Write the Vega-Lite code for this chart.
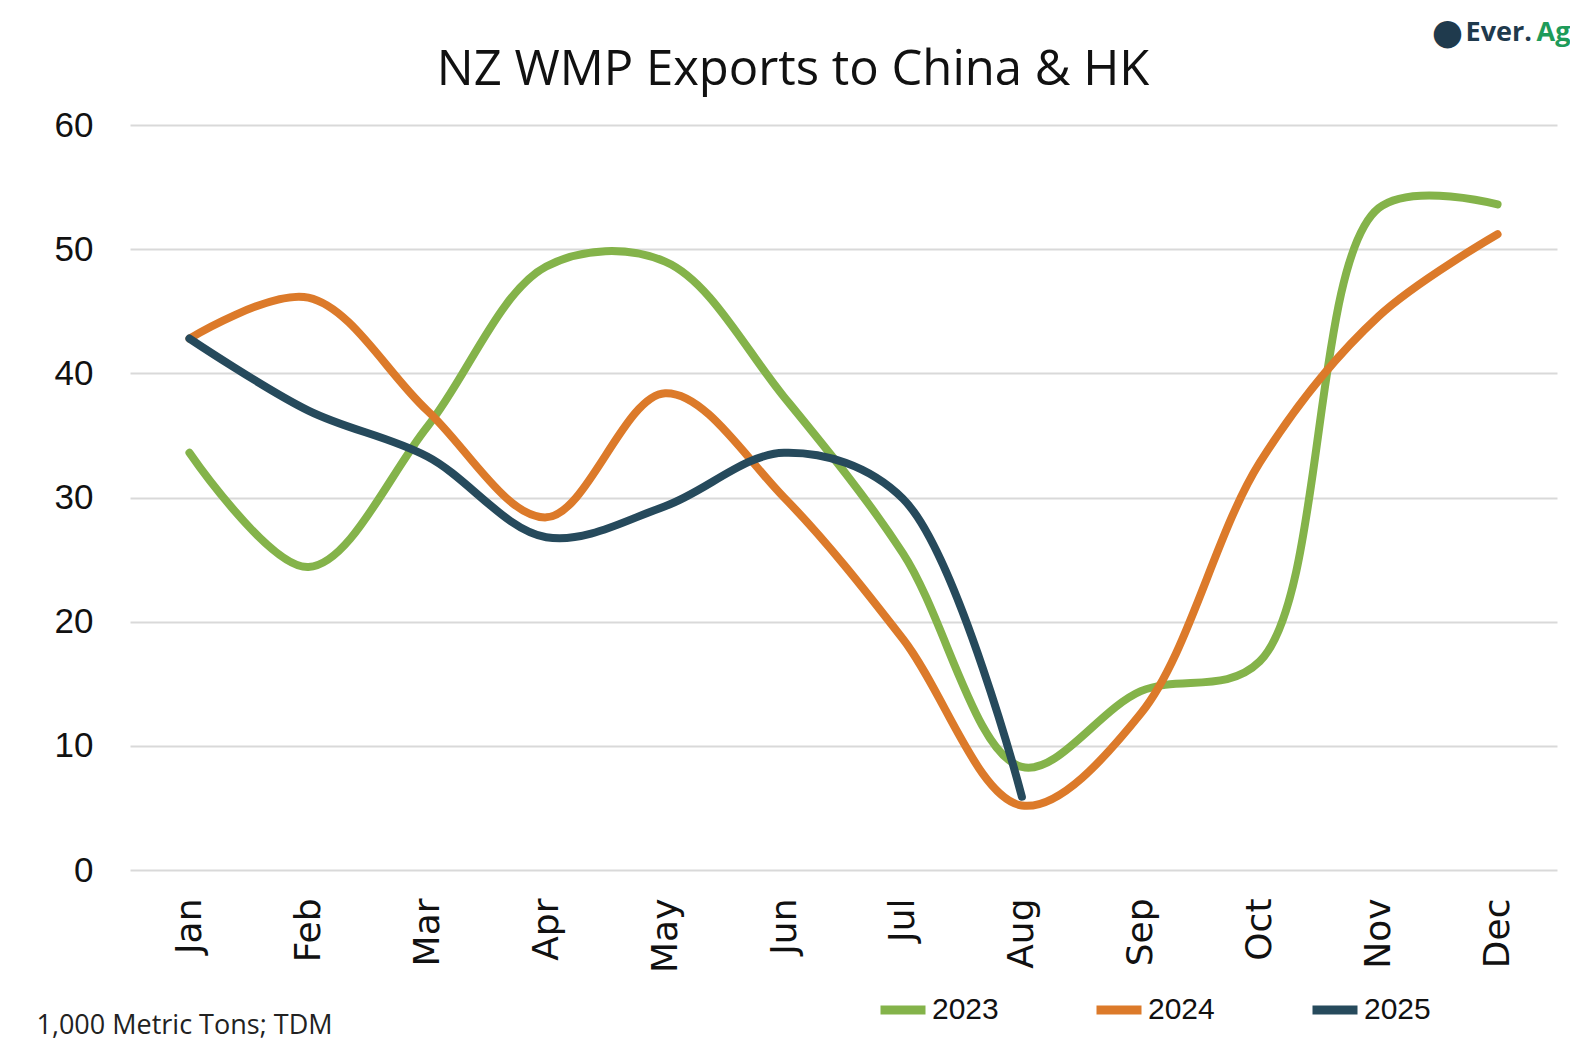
{
  "$schema": "https://vega.github.io/schema/vega-lite/v6.json",
  "autosize": {"type": "none"},
  "width": 1427,
  "height": 745,
  "padding": {"left": 130, "top": 125, "right": 13, "bottom": 184},
  "background": "white",
  "config": {"view": {"stroke": null}},
  "datasets": {
    "series": [
      {"month": "Jan", "year": "2023", "value": 33.6},
      {"month": "Feb", "year": "2023", "value": 24.4},
      {"month": "Mar", "year": "2023", "value": 35.7},
      {"month": "Apr", "year": "2023", "value": 48.6},
      {"month": "May", "year": "2023", "value": 49.0},
      {"month": "Jun", "year": "2023", "value": 38.1},
      {"month": "Jul", "year": "2023", "value": 25.5},
      {"month": "Aug", "year": "2023", "value": 8.3},
      {"month": "Sep", "year": "2023", "value": 14.4},
      {"month": "Oct", "year": "2023", "value": 16.8},
      {"month": "Nov", "year": "2023", "value": 53.3},
      {"month": "Dec", "year": "2023", "value": 53.6},
      {"month": "Jan", "year": "2024", "value": 42.8},
      {"month": "Feb", "year": "2024", "value": 46.1},
      {"month": "Mar", "year": "2024", "value": 37.0},
      {"month": "Apr", "year": "2024", "value": 28.4},
      {"month": "May", "year": "2024", "value": 38.4},
      {"month": "Jun", "year": "2024", "value": 30.0},
      {"month": "Jul", "year": "2024", "value": 18.6},
      {"month": "Aug", "year": "2024", "value": 5.2},
      {"month": "Sep", "year": "2024", "value": 12.6},
      {"month": "Oct", "year": "2024", "value": 32.8},
      {"month": "Nov", "year": "2024", "value": 44.6},
      {"month": "Dec", "year": "2024", "value": 51.2},
      {"month": "Jan", "year": "2025", "value": 42.8},
      {"month": "Feb", "year": "2025", "value": 37.0},
      {"month": "Mar", "year": "2025", "value": 33.3},
      {"month": "Apr", "year": "2025", "value": 26.8},
      {"month": "May", "year": "2025", "value": 29.3},
      {"month": "Jun", "year": "2025", "value": 33.6},
      {"month": "Jul", "year": "2025", "value": 29.9},
      {"month": "Aug", "year": "2025", "value": 5.9}
    ],
    "logo": [{"month": "Dec", "value": 67.4}],
    "heading": [{"month": "Jun", "value": 63.2, "label": "NZ WMP Exports to China & HK"}]
  },
  "layer": [
    {
      "data": {"name": "series"},
      "mark": {"type": "line", "interpolate": "catmull-rom", "strokeWidth": 8, "strokeCap": "round", "strokeJoin": "round"},
      "encoding": {
        "x": {
          "field": "month",
          "type": "ordinal",
          "sort": ["Jan","Feb","Mar","Apr","May","Jun","Jul","Aug","Sep","Oct","Nov","Dec"],
          "scale": {"type": "point", "padding": 0.5},
          "axis": {
            "title": "1,000 Metric Tons; TDM",
            "titleFont": "Open Sans",
            "titleFontSize": 27,
            "titleFontWeight": "normal",
            "titleColor": "#222222",
            "titleAlign": "left",
            "titleBaseline": "alphabetic",
            "titleX": -94,
            "titleY": 163,
            "labelAngle": -90,
            "labelAlign": "right",
            "labelBaseline": "middle",
            "labelPadding": 28,
            "labelFont": "DejaVu Sans",
            "labelFontSize": 36,
            "labelColor": "#111111",
            "domain": false,
            "ticks": false,
            "grid": false
          }
        },
        "y": {
          "field": "value",
          "type": "quantitative",
          "scale": {"domain": [0, 60], "nice": false},
          "axis": {
            "title": null,
            "values": [0, 10, 20, 30, 40, 50, 60],
            "labelFont": "Liberation Sans",
            "labelFontSize": 35,
            "labelColor": "#111111",
            "labelPadding": 37,
            "domain": false,
            "ticks": false,
            "grid": true,
            "gridColor": "#d9d9d9",
            "gridWidth": 2
          }
        },
        "color": {
          "field": "year",
          "type": "nominal",
          "scale": {"domain": ["2023", "2024", "2025"], "range": ["#84B34A", "#DC7A2A", "#264A5C"]},
          "legend": {
            "title": null,
            "orient": "none",
            "direction": "horizontal",
            "legendX": 746,
            "legendY": 858,
            "symbolType": "stroke",
            "symbolSize": 2025,
            "symbolStrokeWidth": 9,
            "labelFont": "Liberation Sans",
            "labelFontSize": 30,
            "labelColor": "#111111",
            "labelOffset": 2,
            "columnPadding": 79
          }
        }
      }
    },
    {
      "data": {"name": "heading"},
      "mark": {"type": "text", "align": "center", "baseline": "alphabetic", "dx": 9, "font": "Open Sans", "fontSize": 49, "color": "#111111"},
      "encoding": {
        "x": {"field": "month", "type": "ordinal", "sort": ["Jan","Feb","Mar","Apr","May","Jun","Jul","Aug","Sep","Oct","Nov","Dec"]},
        "y": {"field": "value", "type": "quantitative"},
        "text": {"field": "label"}
      }
    },
    {
      "data": {"name": "logo"},
      "mark": {"type": "text", "text": "●", "align": "center", "baseline": "middle", "dx": -50, "font": "DejaVu Sans", "fontSize": 36, "color": "#1F3A4D"},
      "encoding": {
        "x": {"field": "month", "type": "ordinal", "sort": ["Jan","Feb","Mar","Apr","May","Jun","Jul","Aug","Sep","Oct","Nov","Dec"]},
        "y": {"field": "value", "type": "quantitative"}
      }
    },
    {
      "data": {"name": "logo"},
      "mark": {"type": "text", "text": "Ever.", "align": "left", "baseline": "middle", "dx": -32, "font": "Open Sans", "fontWeight": "bold", "fontSize": 27, "color": "#1F3A4D"},
      "encoding": {
        "x": {"field": "month", "type": "ordinal", "sort": ["Jan","Feb","Mar","Apr","May","Jun","Jul","Aug","Sep","Oct","Nov","Dec"]},
        "y": {"field": "value", "type": "quantitative"}
      }
    },
    {
      "data": {"name": "logo"},
      "mark": {"type": "text", "text": "Ag", "align": "left", "baseline": "middle", "dx": 39, "font": "Open Sans", "fontWeight": "bold", "fontSize": 27, "color": "#1E9B5A"},
      "encoding": {
        "x": {"field": "month", "type": "ordinal", "sort": ["Jan","Feb","Mar","Apr","May","Jun","Jul","Aug","Sep","Oct","Nov","Dec"]},
        "y": {"field": "value", "type": "quantitative"}
      }
    }
  ]
}
